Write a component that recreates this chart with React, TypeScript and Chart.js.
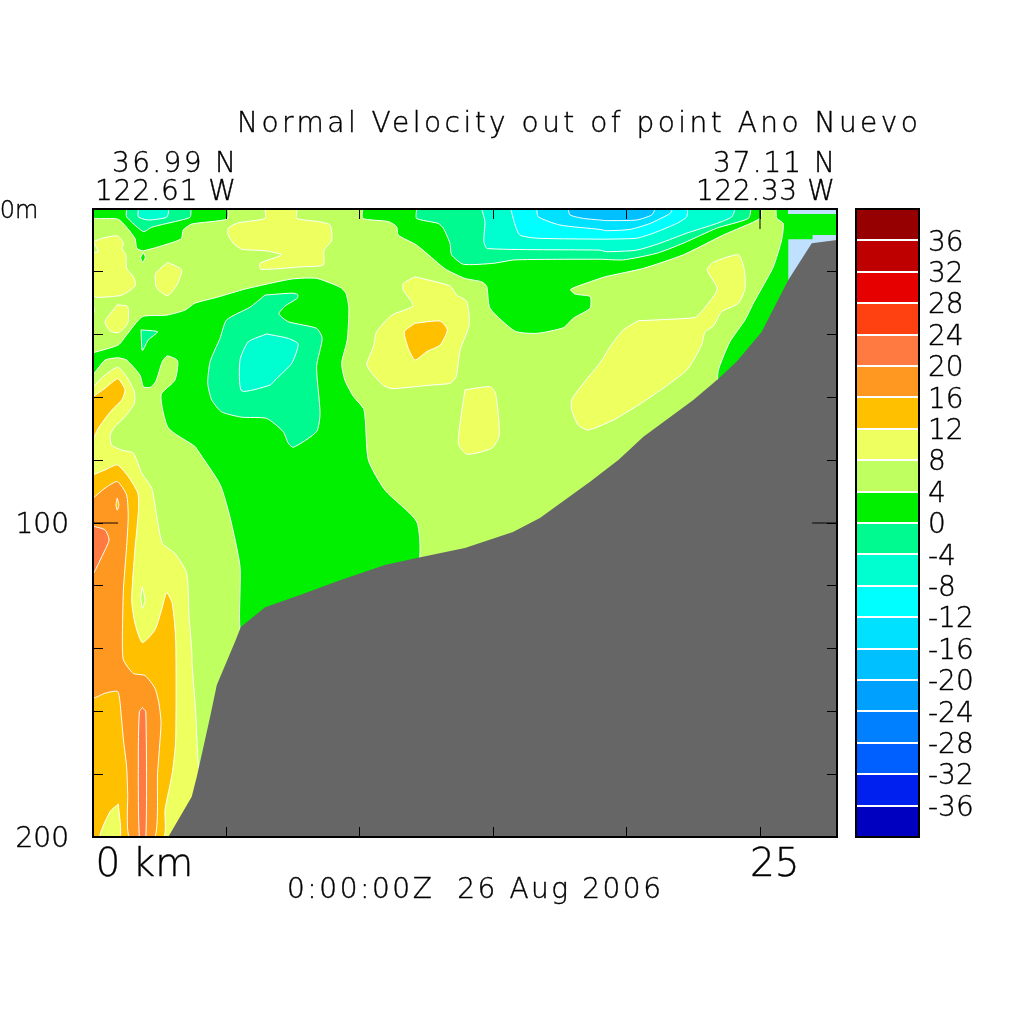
import React, { useEffect, useRef } from "react";
import { Chart, registerables } from "chart.js";

Chart.register(...registerables);

type Pt = [number, number];

// Axis extents: distance along the section (km) and depth (m)
const KM_MAX = 27.886;
const DEPTH_MAX = 200;

// Colour scale: level boundaries (cm/s) and the band colours, low to high
const levels = [-40, -36, -32, -28, -24, -20, -16, -12, -8, -4, 0, 4, 8, 12, 16, 20, 24, 28, 32, 36, 40];
const bandColors = [
  "#0000c0", "#0020f0", "#0060ff", "#0080ff", "#00a0ff", "#00c0ff", "#00e0ff", "#00ffff", "#00ffd0", "#00fa90",
  "#00f000", "#c0ff60", "#eeff60", "#ffc000", "#ff9820", "#ff7a40", "#ff4010", "#e60000", "#bf0000", "#960000",
];
const GREEN = "#00f000", LIME = "#c0ff60", YELLOW = "#eeff60", AMBER = "#ffc000", ORANGE = "#ff9820", CORAL = "#ff7a40";
const MINT = "#00fa90", AQUA = "#00ffd0", CYAN = "#00ffff", SKY1 = "#00e0ff", SKY2 = "#00c0ff";
const NODATA = "#c0e0ff", GROUND = "#666666";

const yTickLabels: Record<number, string> = { 0: "0m    ", 100: "100", 200: "200" };
const xTickLabels: Record<number, string> = { 0: " 0 km", 25: "25" };
const titleText = "Normal Velocity out of point Ano Nuevo";
const startLat = "36.99 N";
const startLon = "122.61 W";
const endLat = "37.11 N";
const endLon = "122.33 W";
const timeText = "0:00:00Z  26 Aug 2006";

// Contour outlines as [km, depth m]
const baseBand: Pt[] = [[0, 0], [KM_MAX, 0], [KM_MAX, DEPTH_MAX], [0, DEPTH_MAX]];
const yellowTop: Pt[] = [[6.45, 0], [6.45, 3.0], [5.45, 4.4], [5.07, 6.1], [5.07, 8.3], [5.26, 10.9], [5.57, 12.8], [6.45, 13.3], [7.07, 14.6], [6.26, 17.3], [6.29, 19.2], [7.82, 18.4], [8.63, 17.8], [8.66, 13.1], [8.95, 9.9], [8.88, 5.1], [8.44, 4.0], [7.63, 3.0], [7.63, 0]];
const yellowLeft: Pt[] = [[0, 10.4], [0.45, 9.1], [0.93, 8.6], [1.14, 10.9], [1.08, 12.5], [1.23, 14.6], [1.26, 18.9], [1.51, 21.6], [1.60, 24.2], [1.32, 26.3], [1.01, 27.6], [0, 27.6], [0, 14.0], [0.20, 13.6], [0.14, 12.5]];
const yellowSmallA: Pt[] = [[2.80, 17.0], [3.32, 19.4], [3.14, 24.2], [2.80, 27.6], [2.45, 25.8], [2.35, 24.2], [2.35, 20.5]];
const yellowSmallB: Pt[] = [[0.91, 30.5], [1.30, 31.1], [1.30, 36.4], [0.95, 39.4], [0.64, 38.8], [0.45, 35.9]];
const yellowMid: Pt[] = [[12.07, 21.6], [13.38, 24.5], [13.63, 27.4], [14.01, 29.5], [14.10, 36.9], [13.76, 44.9], [13.61, 53.4], [13.38, 55.5], [12.63, 56.1], [11.20, 57.2], [10.88, 56.1], [10.45, 52.3], [10.26, 49.4], [10.51, 43.9], [10.63, 39.1], [11.20, 33.8], [11.98, 31.1], [11.94, 29.5], [11.63, 25.8], [11.63, 23.7]];
const yellowLow: Pt[] = [[13.94, 57.6], [14.88, 56.6], [15.09, 58.7], [15.23, 72.0], [14.94, 76.2], [14.01, 78.1], [13.69, 74.6]];
const yellowBig: Pt[] = [[20.44, 35.6], [19.88, 38.5], [19.38, 43.9], [19.00, 49.1], [18.63, 52.9], [18.19, 57.6], [17.94, 60.8], [17.94, 64.0], [18.19, 68.8], [18.56, 70.4], [19.50, 67.2], [20.63, 61.4], [22.25, 51.3], [22.81, 43.3], [22.94, 39.1], [23.25, 37.3], [23.56, 32.7], [24.19, 30.0], [24.44, 25.3], [24.41, 19.4], [24.19, 14.6], [23.25, 17.0], [23.02, 19.4], [23.40, 25.6], [22.63, 34.3], [22.31, 34.8]];
const yellowOuter: Pt[] = [[0, 56.6], [0.45, 52.9], [0.93, 50.4], [1.26, 53.4], [1.55, 58.2], [1.55, 61.9], [1.20, 66.1], [0.82, 69.3], [0.64, 72.0], [0.70, 75.2], [1.08, 76.8], [1.51, 77.7], [1.83, 84.2], [2.20, 88.9], [2.39, 98.0], [2.60, 106.5], [3.07, 109.7], [3.51, 116.0], [3.60, 129.8], [3.70, 140.4], [3.72, 145.8], [3.85, 160.6], [3.94, 176.4], [4.12, 185], [3.26, 200], [0, 200]];
const greenTopLeft: Pt[] = [[0, 0], [5.02, 0], [5.02, 3.2], [3.70, 4.8], [3.38, 6.7], [3.32, 9.3], [3.07, 10.4], [1.89, 13.3], [1.64, 12.5], [1.57, 9.3], [0.95, 3.3], [0, 2.9]];
const greenDot: Pt[] = [[1.89, 13.9], [1.96, 15.4], [1.86, 17.0], [1.79, 15.4]];
const greenTiny: Pt[] = [[0, 30.9], [0.06, 31.8], [0, 33.8]];
const greenBig: Pt[] = [[0, 45.8], [0.95, 43.3], [1.26, 40.1], [1.85, 34.3], [2.76, 33.8], [3.45, 32.2], [3.82, 30.0], [4.70, 28.0], [5.70, 25.5], [7.45, 22.3], [8.38, 22.1], [9.26, 24.9], [9.48, 26.8], [9.59, 31.6], [9.53, 41.7], [9.32, 49.1], [9.44, 54.5], [9.76, 59.7], [10.16, 64.0], [10.32, 79.9], [10.94, 89.5], [12.14, 99.7], [12.18, 113.4], [10.94, 115.6], [9.26, 120.4], [7.76, 125.2], [6.45, 129.3], [5.55, 135.3], [5.51, 113.9], [5.13, 98.0], [4.76, 87.7], [3.92, 76.8], [3.82, 75.6], [2.82, 69.7], [2.55, 59.2], [3.07, 54.5], [3.17, 48.3], [2.78, 46.8], [2.60, 48.6], [2.35, 55.0], [2.14, 56.8], [1.89, 56.6], [1.76, 52.9], [1.26, 48.1], [0.93, 47.4], [0.45, 48.1], [0, 52.5]];
const greenTopRight: Pt[] = [[10.11, 0], [10.11, 3.0], [11.07, 4.0], [11.38, 5.6], [11.44, 8.3], [12.13, 11.5], [13.01, 17.8], [13.26, 19.4], [13.94, 22.1], [14.57, 23.2], [14.76, 24.7], [14.88, 31.6], [15.82, 38.9], [16.63, 39.6], [17.63, 37.8], [18.00, 34.8], [18.63, 31.6], [18.63, 27.9], [18.07, 27.1], [17.90, 25.6], [18.63, 23.2], [19.19, 21.6], [20.63, 18.9], [22.12, 14.6], [23.62, 8.3], [25.00, 3.0], [25.00, 0]];
const greenEdge: Pt[] = [[25.60, 0], [KM_MAX, 0], [KM_MAX, 13], [26.93, 13.1], [26.12, 25.8], [25.19, 41.7], [24.17, 51.9], [23.44, 56], [23.44, 51.3], [23.87, 42.3], [24.44, 35.3], [24.75, 30.0], [25.06, 25.3], [25.50, 18.4], [25.81, 9.9], [25.87, 4.6], [25.63, 3.0]];
const mintTopLeft: Pt[] = [[1.26, 0], [3.64, 0], [3.64, 2.6], [3.32, 3.5], [2.20, 5.8], [1.89, 7.2], [1.26, 2.5]];
const mintSmall: Pt[] = [[1.80, 38.5], [2.42, 39.1], [2.07, 41.7], [1.85, 45.1]];
const mintBig: Pt[] = [[6.45, 27.4], [7.45, 26.8], [7.67, 27.2], [7.66, 28.4], [7.20, 30.9], [6.97, 33.4], [7.32, 35.9], [8.38, 38.0], [8.59, 41.2], [8.38, 50.2], [8.51, 65.1], [8.38, 70.9], [7.51, 75.9], [7.32, 74.6], [7.13, 70.9], [6.51, 66.7], [5.57, 66.3], [4.82, 64.6], [4.45, 60.8], [4.30, 55.5], [4.39, 48.6], [4.76, 41.2], [5.01, 35.3], [5.88, 31.3]];
const mintTop: Pt[] = [[12.13, 0], [12.13, 3.0], [12.94, 4.6], [13.13, 6.1], [13.38, 10.9], [13.44, 14.6], [13.88, 17.6], [15.00, 17.3], [15.82, 16.2], [19.00, 16.0], [19.88, 16.2], [21.13, 14.1], [22.12, 10.9], [23.38, 6.1], [24.56, 3.0], [24.62, 0]];
const aquaTopLeft: Pt[] = [[1.70, 0], [2.82, 0], [2.76, 2.6], [2.07, 3.5], [1.70, 2.5]];
const aquaCore: Pt[] = [[6.51, 39.8], [7.32, 41.2], [7.69, 43.0], [7.45, 49.1], [6.82, 54.5], [6.63, 56.1], [5.57, 57.9], [5.51, 48.1], [5.82, 42.3]];
const aquaTop: Pt[] = [[14.57, 0], [14.69, 4.0], [14.65, 10.4], [14.78, 12.6], [19.00, 13.1], [19.25, 13.6], [20.38, 13.1], [21.25, 10.9], [22.25, 7.7], [23.38, 4.6], [23.94, 2.5], [24.03, 0]];
const cyanTop: Pt[] = [[15.66, 0], [15.82, 5.1], [16.00, 8.3], [16.63, 9.3], [19.00, 9.6], [19.25, 9.6], [20.38, 9.3], [21.00, 7.7], [21.88, 4.6], [22.25, 2.5], [22.25, 0]];
const skyTop: Pt[] = [[16.63, 0], [16.69, 2.5], [17.50, 5.1], [19.00, 6.5], [19.25, 6.9], [20.13, 6.5], [20.88, 4.6], [21.63, 1.4], [21.69, 0]];
const deepSkyTop: Pt[] = [[17.81, 0], [17.88, 1.9], [18.38, 3.0], [19.00, 3.5], [19.25, 3.7], [20.38, 3.5], [20.94, 1.9], [21.04, 0]];
const limeHole: Pt[] = [[1.85, 120.3], [1.95, 124.5], [1.85, 127.2], [1.79, 123.5]];
const amberTop: Pt[] = [[0, 59.8], [0.45, 57.1], [0.93, 54.1], [1.20, 57.6], [1.08, 60.8], [0.76, 63.5], [0.51, 66.1], [0.20, 69.8], [0, 73.0]];
const amberLeft: Pt[] = [[0, 84.7], [0.45, 83.1], [0.91, 81.5], [1.32, 85.2], [1.68, 90.5], [1.70, 96.4], [1.57, 108.6], [1.45, 124.5], [1.57, 131.9], [1.85, 138.1], [2.32, 134.1], [2.57, 127.7], [2.76, 122.2], [2.97, 125.6], [3.10, 137.3], [3.10, 169.1], [2.97, 179.7], [2.70, 191.3], [2.63, 200], [0, 200]];
const amberMid: Pt[] = [[12.07, 36.4], [13.01, 35.7], [13.28, 38.5], [13.01, 43.3], [12.51, 45.4], [12.07, 48.1], [11.82, 44.4], [11.67, 39.1]];
const yellowTip: Pt[] = [[0.95, 189.5], [1.01, 200], [0.26, 200], [0.64, 191.9]];
const orangeLeft: Pt[] = [[0, 92.1], [0.45, 88.9], [0.91, 86.8], [1.26, 91.1], [1.32, 98.0], [1.26, 107.5], [1.14, 121.3], [1.10, 137.3], [1.14, 143.6], [1.51, 147.9], [1.95, 148.6], [2.32, 152.6], [2.47, 157.4], [2.55, 163.8], [2.42, 179.7], [2.32, 200], [1.36, 200], [1.30, 186.1], [1.26, 177.6], [1.14, 169.1], [1.05, 160.6], [0.93, 153.7], [0.45, 154.2], [0, 155.5]];
const amberTiny: Pt[] = [[0.91, 92.1], [0.97, 94.3], [0.91, 95.9], [0.86, 94.3]];
const coralUpper: Pt[] = [[0, 101], [0.45, 102.2], [0.60, 105.4], [0.33, 110.7], [0, 116]];
const coralLower: Pt[] = [[1.85, 158.8], [1.98, 160.1], [1.98, 200], [1.74, 200], [1.70, 172.3], [1.74, 160.1]];
const noDataTop: Pt[] = [[26.05, 0], [KM_MAX, 0], [KM_MAX, 1.6], [26.05, 1.6]];
const noDataLow: Pt[] = [[26.06, 9.6], [26.97, 9.6], [26.97, 8.3], [KM_MAX, 8.3], [KM_MAX, 13], [26.93, 13], [26.06, 25.8]];
const seabed: Pt[] = [[2.82, 200], [3.70, 187.2], [3.89, 180.8], [4.39, 161.7], [4.64, 151.6], [5.35, 137.3], [5.54, 133.1], [6.45, 126.8], [7.76, 122.9], [9.26, 118.2], [10.94, 113.4], [12.18, 111.1], [13.94, 108.0], [15.74, 102.9], [16.75, 98.4], [18.63, 86.9], [19.69, 79.9], [20.63, 72.5], [22.50, 60.8], [23.44, 54.1], [24.13, 48.6], [25.06, 39.2], [26.06, 22.6], [26.94, 10.9], [KM_MAX, 9.9], [KM_MAX, DEPTH_MAX]];

// Longer tick marks at the labelled values
const longTickTop: Pt[] = [[25, 0], [25, 6.4]];
const longTickLeft: Pt[] = [[0, 100], [0.94, 100]];
const longTickRight: Pt[] = [[26.95, 100], [KM_MAX, 100]];

const FONT = '"DejaVu Sans Light", "DejaVu Sans"';
const thin = (size: number) => `200 ${size}px ${FONT}`;

function App() {
  const mainRef = useRef<HTMLCanvasElement>(null);
  const barRef = useRef<HTMLCanvasElement>(null);

  useEffect(() => {
    document.body.style.margin = "0";

    const polygonFill = {
      id: "polygonFill",
      beforeDatasetDraw(chart: any, args: any) {
        const ds = chart.data.datasets[args.index];
        if (!ds.fillColor) return;
        const meta = chart.getDatasetMeta(args.index);
        const curved = !!meta.dataset && ds.showLine;
        if (curved) meta.dataset.updateControlPoints(chart.chartArea, "x");
        const pts = meta.data;
        const a = chart.chartArea;
        const ctx = chart.ctx;
        ctx.save();
        ctx.beginPath();
        ctx.rect(a.left, a.top, a.right - a.left, a.bottom - a.top);
        ctx.clip();
        ctx.beginPath();
        pts.forEach((p: any, i: number) => {
          if (!i) ctx.moveTo(p.x, p.y);
          else if (curved) ctx.bezierCurveTo(pts[i - 1].cp2x, pts[i - 1].cp2y, p.cp1x, p.cp1y, p.x, p.y);
          else ctx.lineTo(p.x, p.y);
        });
        ctx.closePath();
        ctx.fillStyle = ds.fillColor;
        ctx.fill();
        ctx.restore();
      },
    };
    const frame = {
      id: "frame",
      afterDraw(chart: any) {
        const a = chart.chartArea;
        const ctx = chart.ctx;
        ctx.save();
        ctx.strokeStyle = "#000";
        ctx.lineWidth = 2;
        ctx.strokeRect(a.left, a.top, a.right - a.left, a.bottom - a.top);
        ctx.restore();
      },
    };
    const captions = {
      id: "captions",
      afterDraw(chart: any) {
        const ctx = chart.ctx;
        const put = (t: string, left: number, right: number, base: number) => {
          ctx.save();
          ctx.font = thin(28);
          ctx.fillStyle = "#000";
          ctx.strokeStyle = "#000";
          ctx.lineWidth = 0.4;
          ctx.textAlign = "left";
          ctx.textBaseline = "alphabetic";
          const w = ctx.measureText(t).width;
          ctx.letterSpacing = `${(right - left - w) / (t.length - 1)}px`;
          ctx.strokeText(t, left, base);
          ctx.fillText(t, left, base);
          ctx.restore();
        };
        put(titleText, 237, 918, 132);
        put(startLat, 112, 236, 172);
        put(startLon, 95, 236, 200);
        put(endLat, 713, 835, 172);
        put(endLon, 696, 835, 200);
        put(timeText, 287, 661, 898);
      },
    };

    const layer = (data: Pt[], fillColor: string | null, lined = true) => ({
      data: [...data, data[0]].map(([x, y]) => ({ x, y })),
      fillColor,
      showLine: lined,
      borderColor: "#ffffff",
      borderWidth: lined ? 1 : 0,
      pointRadius: 0,
      tension: lined ? 0.2 : 0,
    });
    const tick = (data: Pt[]) => ({
      data: data.map(([x, y]) => ({ x, y })),
      showLine: true,
      borderColor: "#000",
      borderWidth: 1,
      pointRadius: 0,
      tension: 0.0001,
    });

    const drawn: any[] = [
      layer(baseBand, LIME, false),
      layer(yellowTop, YELLOW), layer(yellowLeft, YELLOW), layer(yellowSmallA, YELLOW), layer(yellowSmallB, YELLOW),
      layer(yellowMid, YELLOW), layer(yellowLow, YELLOW), layer(yellowBig, YELLOW), layer(yellowOuter, YELLOW),
      layer(greenTopLeft, GREEN), layer(greenDot, GREEN), layer(greenTiny, GREEN), layer(greenBig, GREEN),
      layer(greenTopRight, GREEN), layer(greenEdge, GREEN),
      layer(mintTopLeft, MINT), layer(mintSmall, MINT), layer(mintBig, MINT), layer(mintTop, MINT),
      layer(aquaTopLeft, AQUA), layer(aquaCore, AQUA), layer(aquaTop, AQUA),
      layer(cyanTop, CYAN), layer(skyTop, SKY1), layer(deepSkyTop, SKY2),
      layer(limeHole, LIME), layer(amberTop, AMBER), layer(amberLeft, AMBER), layer(amberMid, AMBER),
      layer(yellowTip, YELLOW), layer(orangeLeft, ORANGE), layer(amberTiny, AMBER),
      layer(coralUpper, CORAL), layer(coralLower, CORAL),
      layer(noDataTop, NODATA, false), layer(noDataLow, NODATA, false),
      layer(seabed, GROUND, false),
      tick(longTickTop), tick(longTickLeft), tick(longTickRight),
    ];
    drawn.forEach((d, i) => (d.order = drawn.length - i));

    const tickGrid = { drawOnChartArea: false, drawTicks: true, tickLength: -10, color: "#000", lineWidth: 1, z: 1 };
    const xBase = { type: "linear", min: 0, max: KM_MAX, ticks: { stepSize: 5, includeBounds: false, autoSkip: false, maxRotation: 0, minRotation: 0 }, border: { display: false } };
    const yBase = { type: "linear", min: 0, max: DEPTH_MAX, reverse: true, ticks: { stepSize: 20, includeBounds: false, autoSkip: false }, border: { display: false } };

    const main = new Chart(mainRef.current!, {
      type: "scatter",
      data: { datasets: drawn },
      plugins: [polygonFill, frame, captions],
      options: {
        animation: false,
        responsive: false,
        layout: { padding: { left: 0, top: 209, right: 187, bottom: 0 } },
        plugins: { legend: { display: false }, tooltip: { enabled: false } },
        scales: {
          x: {
            ...xBase,
            position: "bottom",
            grid: tickGrid,
            afterFit: (s: any) => { s.height = 187; },
            ticks: {
              ...xBase.ticks,
              align: "start",
              labelOffset: -10,
              padding: 15,
              color: "#000",
              textStrokeColor: "#000",
              textStrokeWidth: 0.4,
              font: { family: FONT, size: 39, weight: 200 },
              callback: (v: any) => xTickLabels[v] ?? "",
            },
          },
          xTop: {
            ...xBase,
            position: "top",
            grid: tickGrid,
            afterFit: (s: any) => { s.height = 0; },
            ticks: { ...xBase.ticks, display: false },
          },
          y: {
            ...yBase,
            position: "left",
            grid: tickGrid,
            afterFit: (s: any) => { s.width = 93; },
            ticks: {
              ...yBase.ticks,
              padding: 34,
              labelOffset: 3,
              color: "#000",
              textStrokeColor: "#000",
              textStrokeWidth: 0.4,
              font: (c: any) => ({ family: FONT, size: c.tick && c.tick.value === 0 ? 24 : 28, weight: 200 }),
              callback: (v: any) => yTickLabels[v] ?? "",
            },
          },
          yRight: {
            ...yBase,
            position: "right",
            grid: tickGrid,
            afterFit: (s: any) => { s.width = 0; },
            ticks: { ...yBase.ticks, display: false },
          },
        } as any,
      },
    } as any);

    const bar = new Chart(barRef.current!, {
      type: "bar",
      data: {
        labels: ["cm/s"],
        datasets: bandColors.map((c, i) => ({
          data: [[levels[i], levels[i + 1]]],
          backgroundColor: c,
          borderWidth: 0,
          barPercentage: 1,
          categoryPercentage: 1,
          grouped: false,
        })),
      } as any,
      plugins: [frame],
      options: {
        animation: false,
        responsive: false,
        layout: { padding: { left: 856, top: 209, right: 0, bottom: 187 } },
        plugins: { legend: { display: false }, tooltip: { enabled: false } },
        scales: {
          x: { display: false },
          y: {
            position: "right",
            min: -40,
            max: 40,
            border: { display: false },
            afterFit: (s: any) => { s.width = 105; },
            grid: { drawOnChartArea: true, drawTicks: false, color: "#ffffff", lineWidth: 2, z: 1 },
            ticks: {
              stepSize: 4,
              autoSkip: false,
              padding: 9,
              labelOffset: 3,
              color: "#000",
              textStrokeColor: "#000",
              textStrokeWidth: 0.4,
              font: { family: FONT, size: 28, weight: 200 },
              callback: (v: any) => (Math.abs(v) === 40 ? "" : String(v)),
            },
          },
        } as any,
      },
    } as any);

    return () => {
      main.destroy();
      bar.destroy();
    };
  }, []);

  return (
    <div style={{ position: "relative", width: 1024, height: 1024, overflow: "hidden", background: "#fff" }}>
      <canvas ref={mainRef} width={1024} height={1024} style={{ position: "absolute", left: 0, top: 0 }} />
      <canvas ref={barRef} width={1024} height={1024} style={{ position: "absolute", left: 0, top: 0 }} />
    </div>
  );
}

export default App;
